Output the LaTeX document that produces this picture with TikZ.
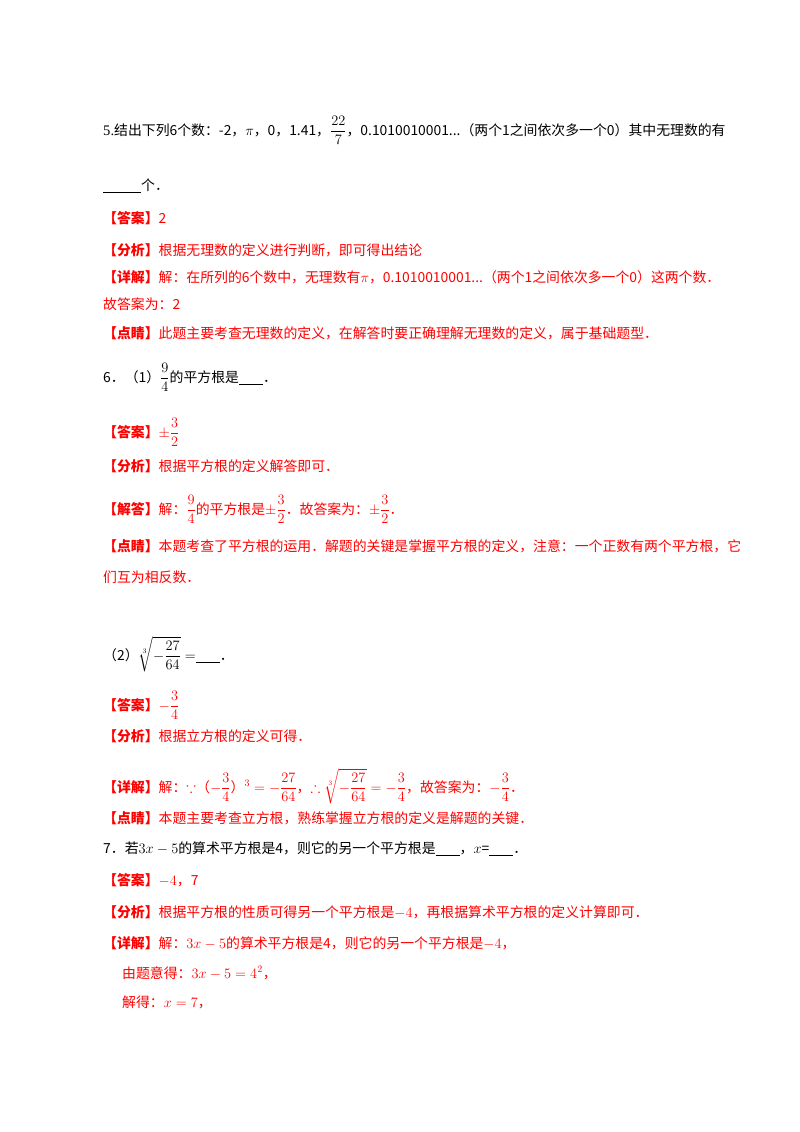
\documentclass[tikz,border=0pt]{standalone}
\usepackage{amsmath,amssymb}
\usepackage{fontspec}
\setmainfont{Liberation Serif}
\newfontfamily\cjk{Noto Sans CJK SC}[Scale=0.95]
\definecolor{ans}{HTML}{FF0000}
\begin{document}
\begin{tikzpicture}[x=1pt,y=-1pt,
  ln/.style={anchor=base west,inner sep=0pt,font=\fontsize{14.6}{17}\selectfont},
  rd/.style={ln,text=ans}]
\useasboundingbox (0,0) rectangle (800,1132);
\newcommand\B[1]{\textbf{#1}}
\node[ln] (l1) at (103,135) {5.\cjk 结出下列6个数：-2，$\pi$，0，1.41，$\dfrac{22}{7}$，0.1010010001...（两个1之间依次多一个0）其中无理数的有};
\node[ln] (l2) at (103,190) {\underline{\hspace{38pt}}\cjk 个．};
\node[rd] (l3) at (103,223) {\cjk\B{【答案】}2};
\node[rd] (l4) at (103,255) {\cjk\B{【分析】}根据无理数的定义进行判断，即可得出结论};
\node[rd] (l5) at (103,282) {\cjk\B{【详解】}解：在所列的6个数中，无理数有$\pi$，0.1010010001...（两个1之间依次多一个0）这两个数．};
\node[rd] (l6) at (103,309) {\cjk 故答案为：2};
\node[rd] (l7) at (103,338) {\cjk\B{【点睛】}此题主要考查无理数的定义，在解答时要正确理解无理数的定义，属于基础题型．};
\node[ln] (l8) at (103,382) {\cjk 6．（1）$\dfrac{9}{4}$的平方根是\underline{\hspace{24pt}}．};
\node[rd] (l9) at (103,437) {\cjk\B{【答案】}$\pm\dfrac{3}{2}$};
\node[rd] (l10) at (103,471) {\cjk\B{【分析】}根据平方根的定义解答即可．};
\node[rd] (l11) at (103,514) {\cjk\B{【解答】}解：$\dfrac{9}{4}$的平方根是$\pm\dfrac{3}{2}$．故答案为：$\pm\dfrac{3}{2}$．};
\node[rd] (l12) at (103,551) {\cjk\B{【点睛】}本题考查了平方根的运用．解题的关键是掌握平方根的定义，注意：一个正数有两个平方根，它};
\node[rd] (l13) at (103,582) {\cjk 们互为相反数．};
\node[ln] (l14) at (103,660) {\cjk（2）$\sqrt[3]{-\dfrac{27}{64}}=$\underline{\hspace{24pt}}．};
\node[rd] (l15) at (103,710) {\cjk\B{【答案】}$-\dfrac{3}{4}$};
\node[rd] (l16) at (103,741) {\cjk\B{【分析】}根据立方根的定义可得．};
\node[rd] (l17) at (103,792) {\cjk\B{【详解】}解：$\because$（$-\dfrac{3}{4}$）$^3=-\dfrac{27}{64}$，$\therefore\sqrt[3]{-\dfrac{27}{64}}=-\dfrac{3}{4}$，故答案为：$-\dfrac{3}{4}$．};
\node[rd] (l18) at (103,823) {\cjk\B{【点睛】}本题主要考查立方根，熟练掌握立方根的定义是解题的关键．};
\node[ln] (l19) at (103,853) {\cjk 7．若$3x-5$的算术平方根是4，则它的另一个平方根是\underline{\hspace{24pt}}，$x$=\underline{\hspace{24pt}}．};
\node[rd] (l20) at (103,885) {\cjk\B{【答案】}$-4$，7};
\node[rd] (l21) at (103,917) {\cjk\B{【分析】}根据平方根的性质可得另一个平方根是$-4$，再根据算术平方根的定义计算即可．};
\node[rd] (l22) at (103,948) {\cjk\B{【详解】}解：$3x-5$的算术平方根是4，则它的另一个平方根是$-4$，};
\node[rd] (l23) at (122,978) {\cjk 由题意得：$3x-5=4^2$，};
\node[rd] (l24) at (122,1007) {\cjk 解得：$x=7$，};
\end{tikzpicture}
\end{document}
